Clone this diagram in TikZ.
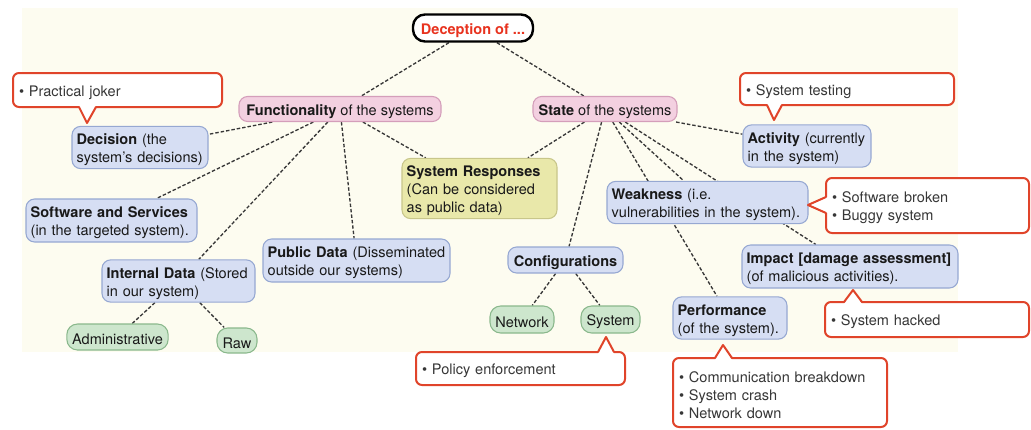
\documentclass[tikz,border=0pt]{standalone}
\usepackage{fontspec}
\setmainfont{TeX Gyre Heros}
\usetikzlibrary{calc}

\definecolor{paper}{RGB}{253,252,240}
\definecolor{pinkfill}{RGB}{243,208,224}
\definecolor{pinkline}{RGB}{212,158,186}
\definecolor{bluefill}{RGB}{214,222,243}
\definecolor{blueline}{RGB}{150,168,210}
\definecolor{yellowfill}{RGB}{233,232,170}
\definecolor{yellowline}{RGB}{200,198,138}
\definecolor{greenfill}{RGB}{205,230,205}
\definecolor{greenline}{RGB}{138,184,140}
\definecolor{calloutred}{RGB}{224,68,42}
\definecolor{titlered}{RGB}{232,50,30}
\definecolor{ink}{RGB}{25,25,25}
\definecolor{notegray}{RGB}{55,55,55}
\definecolor{linkgray}{RGB}{55,55,55}

\newcommand\mapfont{\fontsize{10.9}{13.5}\selectfont}
% a taller first line lowers the text slightly inside its box
\newcommand\firstlinestrut{\rule{0pt}{11.8pt}}

\pgfdeclarelayer{paperlayer}
\pgfdeclarelayer{linklayer}
\pgfsetlayers{paperlayer,linklayer,main}

\tikzset{
  concept/.style={draw, rounded corners=6.5pt, line width=0.8pt, align=left,
    inner xsep=4pt, inner ysep=2pt, text=ink, font=\mapfont,
    execute at begin node=\firstlinestrut},
  wide/.style={inner xsep=3.5pt, text width=#1},
  pinkbox/.style={concept, fill=pinkfill, draw=pinkline},
  bluebox/.style={concept, fill=bluefill, draw=blueline},
  yellowbox/.style={concept, fill=yellowfill, draw=yellowline},
  greenbox/.style={concept, fill=greenfill, draw=greenline, rounded corners=8pt},
  rootbox/.style={draw=black, line width=1.8pt, fill=white, rounded corners=9pt,
    text=titlered, font=\mapfont\bfseries, inner sep=2pt,
    execute at begin node=\firstlinestrut},
  callout/.style={draw=calloutred, line width=1.5pt, fill=white, rounded corners=4.5pt,
    align=left, text=notegray, font=\mapfont, inner xsep=4.5pt, inner ysep=2pt,
    execute at begin node=\firstlinestrut},
  calloutline/.style={draw=calloutred, line width=1.5pt, line join=round},
  link/.style={draw=linkgray, line width=1pt, dash pattern=on 2.6pt off 1.5pt},
  sz/.style 2 args={minimum width=#1*0.75pt, minimum height=#2*0.75pt},
}

\begin{document}
\begin{tikzpicture}[x=0.75pt, y=-0.75pt]
\useasboundingbox (0,0) rectangle (1031,429);

\begin{pgfonlayer}{paperlayer}
  \fill[paper] (22,8) rectangle (958,352);
\end{pgfonlayer}

% concepts
\node[rootbox, sz={120}{27}] (deception) at (473,28) {Deception of ...};
\node[pinkbox, sz={202}{25}] (func) at (340,109) {\textbf{Functionality} of the systems};
\node[pinkbox, sz={144}{25}] (state) at (605,109) {\textbf{State} of the systems};

\node[bluebox, sz={136}{39}, wide=95pt] (decision) at (140,147.5) {\textbf{Decision} (the\\system’s decisions)};
\node[bluebox, sz={171}{43}, wide=121.25pt] (software) at (111.5,220.5) {\textbf{Software and Services}\\(in the targeted system).};
\node[bluebox, sz={153}{42}, wide=107.75pt] (internal) at (178.5,281) {\textbf{Internal Data} (Stored\\in our system)};
\node[greenbox, sz={101}{26}] (admin) at (117.5,337) {Administrative};
\node[greenbox, sz={40}{25}] (raw) at (237,340.5) {Raw};
\node[bluebox, sz={187}{43}, wide=133.25pt] (public) at (356.5,260.5) {\textbf{Public Data} (Disseminated\\outside our systems)};
\node[yellowbox, sz={155}{59}, wide=109.25pt] (sysresp) at (479.5,188.5) {\textbf{System Responses}\\(Can be considered\\as public data)};

\node[bluebox, sz={115}{26}] (config) at (565.5,260) {\textbf{Configurations}};
\node[greenbox, sz={64}{27}] (network) at (522,319.5) {Network};
\node[greenbox, sz={59}{27}] (system) at (610.5,319.5) {System};
\node[bluebox, sz={201}{41}, wide=143.75pt] (weakness) at (707.5,202.5) {\textbf{Weakness} (i.e.\\vulnerabilities in the system).};
\node[bluebox, sz={128}{42}, wide=89pt] (activity) at (807,146) {\textbf{Activity} (currently\\in the system)};
\node[bluebox, sz={216}{43}, wide=155pt] (impact) at (850,266.5) {\textbf{Impact [damage assessment]}\\(of malicious activities).};
\node[bluebox, sz={114}{42}, wide=78.5pt] (performance) at (730,318) {\textbf{Performance}\\(of the system).};

% dashed links between concepts
\begin{pgfonlayer}{linklayer}
  \draw[link] (deception) -- (func);
  \draw[link] (deception) -- (state);
  \draw[link] (func) -- (decision);
  \draw[link] (func) -- (software);
  \draw[link] (func) -- (internal);
  \draw[link] (func) -- (public);
  \draw[link] (func) -- (sysresp);
  \draw[link] (internal) -- (admin);
  \draw[link] (internal) -- (raw);
  \draw[link] (state) -- (sysresp);
  \draw[link] (state) -- (config);
  \draw[link] (state) -- (performance);
  \draw[link] (state) -- (weakness);
  \draw[link] (state) -- (impact);
  \draw[link] (state) -- (activity);
  \draw[link] (config) -- (network);
  \draw[link] (config) -- (system);
\end{pgfonlayer}

% callout notes
\node[callout, sz={209}{34}, text width=147.75pt] (joker) at (117.5,90) {\textbullet\ Practical joker};
\coordinate (jokertip) at (87,123);
\fill[white] (79,105) -- (jokertip) -- (96,105) -- cycle;
\draw[calloutline] (79,107) -- (jokertip) -- (96,107);

\node[callout, sz={214}{32}, text width=151.5pt] (testing) at (847,89) {\textbullet\ System testing};
\coordinate (testingtip) at (774,120);
\fill[white] (767,103) -- (testingtip) -- (782,103) -- cycle;
\draw[calloutline] (767,105) -- (testingtip) -- (782,105);

\node[callout, sz={203}{55}, text width=143.25pt] (broken) at (927.5,205.5) {\textbullet\ Software broken\\\textbullet\ Buggy system};
\coordinate (brokentip) at (808,205);
\fill[white] (828,197) -- (brokentip) -- (828,213) -- cycle;
\draw[calloutline] (826,197) -- (brokentip) -- (826,213);

\node[callout, sz={204}{35}, text width=144pt] (hacked) at (927,319.5) {\textbullet\ System hacked};
\coordinate (hackedtip) at (853,290);
\fill[white] (844,304) -- (hackedtip) -- (862,304) -- cycle;
\draw[calloutline] (844,302) -- (hackedtip) -- (862,302);

\node[callout, sz={209}{33}, text width=147.75pt] (policy) at (520.5,368.5) {\textbullet\ Policy enforcement};
\coordinate (policytip) at (606,337);
\fill[white] (598,354) -- (policytip) -- (614,354) -- cycle;
\draw[calloutline] (598,352) -- (policytip) -- (614,352);

\node[callout, sz={214}{69}, text width=151.5pt] (breakdown) at (780,392.5) {\textbullet\ Communication breakdown\\\textbullet\ System crash\\\textbullet\ Network down};
\coordinate (breakdowntip) at (723,345);
\fill[white] (715,360) -- (breakdowntip) -- (732,360) -- cycle;
\draw[calloutline] (715,358) -- (breakdowntip) -- (732,358);

\end{tikzpicture}
\end{document}
